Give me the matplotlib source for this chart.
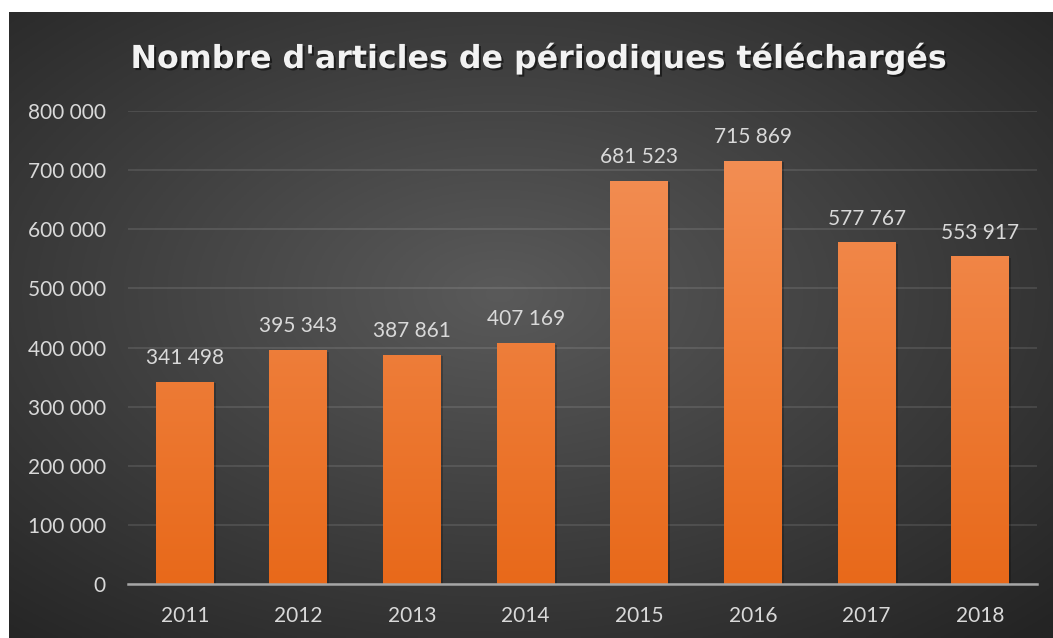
import numpy as np
import matplotlib
matplotlib.use("Agg")
import matplotlib.pyplot as plt
from matplotlib import patheffects as pe
from matplotlib.colors import LinearSegmentedColormap

years = ["2011", "2012", "2013", "2014", "2015", "2016", "2017", "2018"]
downloads = [341498, 395343, 387861, 407169, 681523, 715869, 577767, 553917]
yticks = [0, 100000, 200000, 300000, 400000, 500000, 600000, 700000, 800000]
title = "Nombre d'articles de périodiques téléchargés"

W, H = 1053, 638
fig = plt.figure(figsize=(W / 100, H / 100), dpi=100, facecolor="white")

def fx(px):
    return px / W

def fy(py):
    return 1 - py / H

# background panel with radial gradient
bg = fig.add_axes([fx(9), 0, fx(W - 9), fy(12)])
bg.set_axis_off()
nx, ny = 400, 240
xx, yy = np.meshgrid(np.linspace(0, 1, nx), np.linspace(0, 1, ny))
cx, cy = 0.47, 0.45
r = np.sqrt(((xx - cx) / 0.75) ** 2 + ((yy - cy) / 0.75) ** 2)
r = np.clip(r, 0, 1)
c0 = np.array([0x5A, 0x5A, 0x5A]) / 255
c1 = np.array([0x24, 0x24, 0x24]) / 255
img = c0[None, None, :] * (1 - r[..., None]) + c1[None, None, :] * r[..., None]
bg.imshow(img, extent=[0, 1, 0, 1], aspect="auto", origin="upper")
bg.set_xlim(0, 1)
bg.set_ylim(0, 1)

ax = fig.add_axes([fx(128), fy(584), fx(1037 - 128), fy(111) - fy(584)])
ax.patch.set_alpha(0)
x = np.arange(len(years))
bars = ax.bar(x, downloads, width=0.51, color="#EE7A30", zorder=3)
ax.set_xlim(-0.5, len(years) - 0.5)
ax.set_ylim(0, 800000)
ax.set_yticks(yticks)
ax.set_yticklabels([f"{v:,}".replace(",", " ") for v in yticks])
ax.set_xticks(x)
ax.set_xticklabels(years)
for s in ["top", "right", "left"]:
    ax.spines[s].set_visible(False)
ax.spines["bottom"].set_color("#A6A6A6")
ax.spines["bottom"].set_linewidth(1.8)
ax.spines["bottom"].set_zorder(5)
ax.tick_params(axis="both", length=0, colors="#D9D9D9", labelsize=15)
ax.tick_params(axis="y", pad=16)
ax.tick_params(axis="x", pad=16)
for lab in ax.get_xticklabels() + ax.get_yticklabels():
    lab.set_fontfamily("Lato")
ax.yaxis.grid(True, color="#ffffff", alpha=0.12, linewidth=1.2, zorder=0)
ax.set_axisbelow(True)

# gradient fill for bars
cmap = LinearSegmentedColormap.from_list("o", ["#E8691A", "#F4925A"])
grad = np.linspace(0, 1, 256).reshape(-1, 1)
for b in bars:
    b.set_path_effects([pe.SimplePatchShadow(offset=(1.5, -1), shadow_rgbFace="black", alpha=0.22), pe.Normal()])
    x0 = b.get_x()
    w = b.get_width()
    im = ax.imshow(grad, extent=[x0, x0 + w, 0, 800000], origin="lower",
                   cmap=cmap, aspect="auto", zorder=4)
    im.set_clip_path(b)

for xi, v in zip(x, downloads):
    ax.annotate(f"{v:,}".replace(",", " "), (xi, v), xytext=(0, 10),
                textcoords="offset points", ha="center", va="bottom",
                color="#D9D9D9", fontsize=15, fontfamily="Lato", zorder=6)
ax.set_xlim(-0.5, len(years) - 0.5)
ax.set_ylim(0, 800000)

t = fig.text(fx(537), fy(68), title, ha="center", va="baseline",
             fontsize=22.8, fontweight="bold", fontfamily="DejaVu Sans", color="#F2F2F2")
t.set_path_effects([pe.SimplePatchShadow(offset=(1.5, -1.5), shadow_rgbFace="black", alpha=0.5),
                    pe.Normal()])

fig.savefig("out.png", dpi=100, facecolor="white")
